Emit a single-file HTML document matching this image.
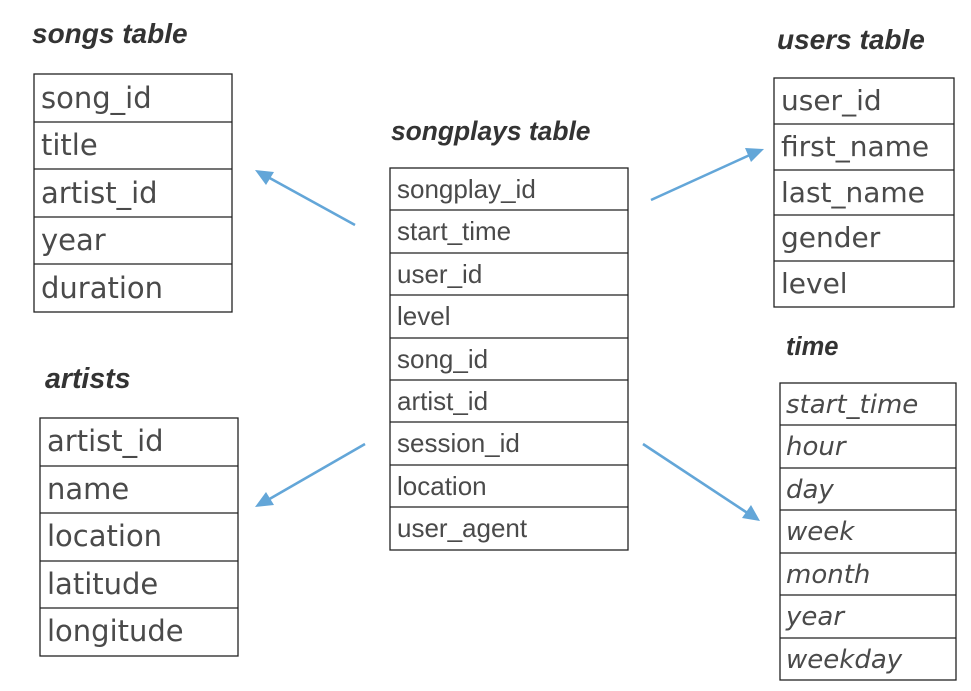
<!DOCTYPE html>
<html><head><meta charset="utf-8"><style>
html,body{margin:0;padding:0;background:#fff;}
svg{display:block;}
.t{font-family:"Liberation Sans",Arial,sans-serif;font-weight:bold;font-style:italic;fill:#333;}
.d{font-family:"DejaVu Sans",sans-serif;fill:#4a4a4a;}
.l{font-family:"Liberation Sans",Arial,sans-serif;fill:#4a4a4a;}
rect{fill:#fff;stroke:#222;stroke-width:1.3;}
.a{stroke:#63a6d8;stroke-width:2.6;fill:none;}
.h{fill:#63a6d8;}
</style></head><body>
<svg width="971" height="691" viewBox="0 0 971 691" xmlns="http://www.w3.org/2000/svg">
<text class="t" x="32" y="43" font-size="28">songs table</text>
<text class="t" x="391" y="140" font-size="26.4">songplays table</text>
<text class="t" x="777" y="49" font-size="28">users table</text>
<text class="t" x="786" y="355" font-size="25.5">time</text>
<text class="t" x="45" y="388" font-size="28.5">artists</text>

<rect x="34" y="74" width="198" height="238"/>
<g stroke="#222" stroke-width="1.3">
<line x1="34" y1="122" x2="232" y2="122"/><line x1="34" y1="169" x2="232" y2="169"/><line x1="34" y1="217" x2="232" y2="217"/><line x1="34" y1="264" x2="232" y2="264"/>
</g>
<g class="d" font-size="29">
<text x="41" y="108">song_id</text><text x="41" y="155">title</text><text x="41" y="203">artist_id</text><text x="41" y="250">year</text><text x="41" y="298">duration</text>
</g>

<rect x="390" y="168" width="238" height="382"/>
<g stroke="#222" stroke-width="1.3">
<line x1="390" y1="210" x2="628" y2="210"/><line x1="390" y1="253" x2="628" y2="253"/><line x1="390" y1="295" x2="628" y2="295"/><line x1="390" y1="338" x2="628" y2="338"/><line x1="390" y1="380" x2="628" y2="380"/><line x1="390" y1="422" x2="628" y2="422"/><line x1="390" y1="465" x2="628" y2="465"/><line x1="390" y1="507" x2="628" y2="507"/>
</g>
<g class="l" font-size="26">
<text x="397" y="198">songplay_id</text><text x="397" y="240">start_time</text><text x="397" y="283">user_id</text><text x="397" y="325">level</text><text x="397" y="368">song_id</text><text x="397" y="410">artist_id</text><text x="397" y="452">session_id</text><text x="397" y="495">location</text><text x="397" y="537">user_agent</text>
</g>

<rect x="774" y="78" width="180" height="229"/>
<g stroke="#222" stroke-width="1.3">
<line x1="774" y1="124" x2="954" y2="124"/><line x1="774" y1="170" x2="954" y2="170"/><line x1="774" y1="215" x2="954" y2="215"/><line x1="774" y1="261" x2="954" y2="261"/>
</g>
<g class="d" font-size="28">
<text x="781" y="110">user_id</text><text x="781" y="156">first_name</text><text x="781" y="202">last_name</text><text x="781" y="247">gender</text><text x="781" y="293">level</text>
</g>

<rect x="780" y="383" width="176" height="297"/>
<g stroke="#222" stroke-width="1.3">
<line x1="780" y1="425" x2="956" y2="425"/><line x1="780" y1="468" x2="956" y2="468"/><line x1="780" y1="510" x2="956" y2="510"/><line x1="780" y1="553" x2="956" y2="553"/><line x1="780" y1="595" x2="956" y2="595"/><line x1="780" y1="638" x2="956" y2="638"/>
</g>
<g class="d" font-size="26" font-style="italic">
<text x="786" y="413">start_time</text><text x="786" y="455">hour</text><text x="786" y="498">day</text><text x="786" y="540">week</text><text x="786" y="583">month</text><text x="786" y="625">year</text><text x="786" y="668">weekday</text>
</g>

<rect x="40" y="418" width="198" height="238"/>
<g stroke="#222" stroke-width="1.3">
<line x1="40" y1="466" x2="238" y2="466"/><line x1="40" y1="513" x2="238" y2="513"/><line x1="40" y1="561" x2="238" y2="561"/><line x1="40" y1="608" x2="238" y2="608"/>
</g>
<g class="d" font-size="29">
<text x="47" y="451">artist_id</text><text x="47" y="499">name</text><text x="47" y="546">location</text><text x="47" y="594">latitude</text><text x="47" y="641">longitude</text>
</g>

<line class="a" x1="355" y1="225" x2="266" y2="176"/>
<polygon class="h" points="255,170 274,172 266,185"/>
<line class="a" x1="651" y1="200" x2="752" y2="154"/>
<polygon class="h" points="764,149 751,162 745,148"/>
<line class="a" x1="365" y1="444" x2="266" y2="501"/>
<polygon class="h" points="255,507 266,492 274,505"/>
<line class="a" x1="643" y1="444" x2="749" y2="514"/>
<polygon class="h" points="760,521 742,518 751,505"/>
</svg>
</body></html>
